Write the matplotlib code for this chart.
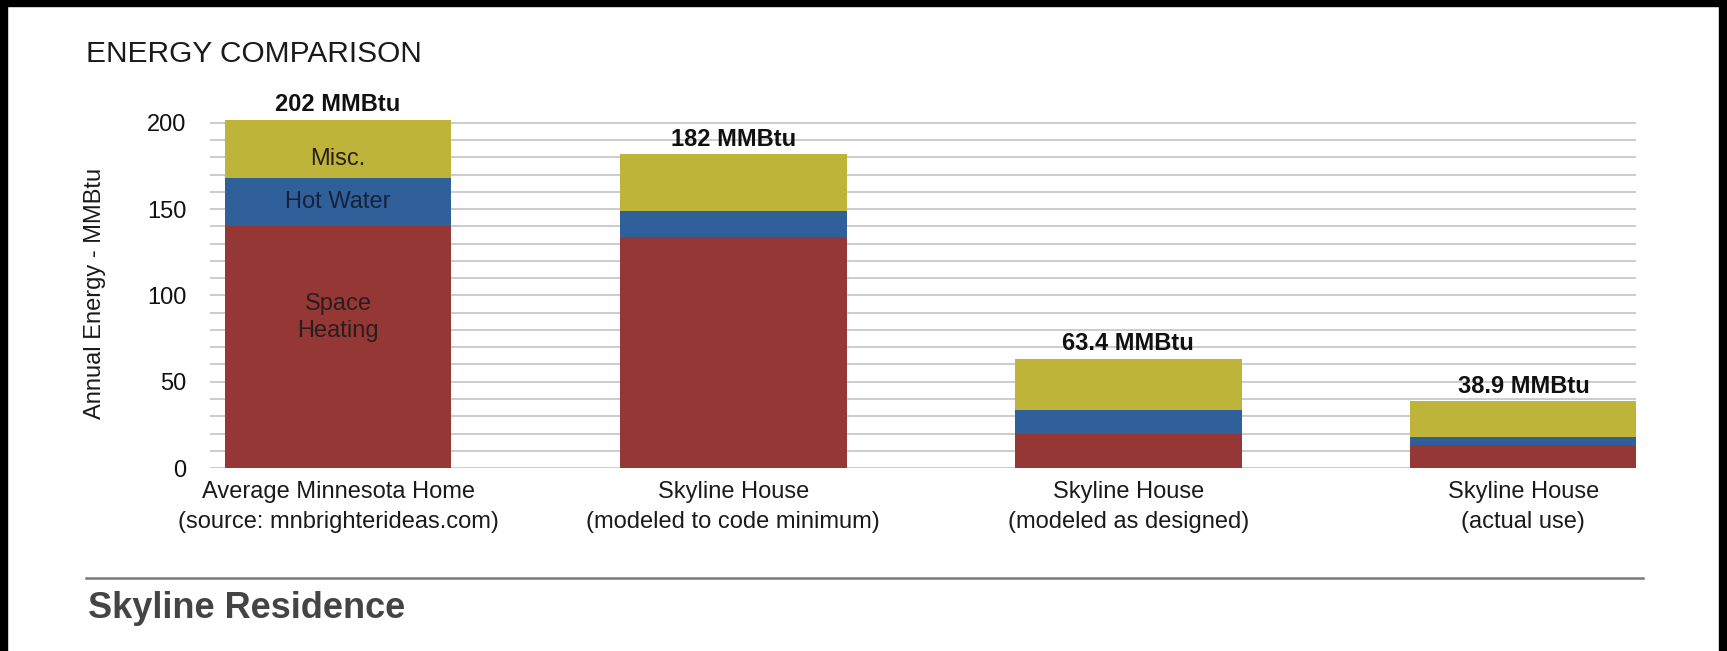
import matplotlib
matplotlib.use('Agg')
import matplotlib.pyplot as plt
from matplotlib.patches import Rectangle
from matplotlib.lines import Line2D
import numpy as np

plt.rcParams['font.family'] = ['Liberation Sans', 'DejaVu Sans']

# data (MMBtu)
categories = ['Average Minnesota Home\n(source: mnbrighterideas.com)',
              'Skyline House\n(modeled to code minimum)',
              'Skyline House\n(modeled as designed)',
              'Skyline House\n(actual use)']
space_heating = [140, 134, 19.5, 13.3]
hot_water = [28, 15, 14, 4.8]
misc = [34, 33, 29.9, 20.8]
totals = ['202', '182', '63.4', '38.9']

red = '#953735'
blue = '#30609a'
yellow = '#bfb43a'

fig = plt.figure(figsize=(17.27, 6.51), dpi=100)
ax = fig.add_axes([0.1216, 0.2811, 0.8257, 0.5353])

x = np.arange(len(categories))
w = 0.574
sh = np.array(space_heating)
hw = np.array(hot_water)
ms = np.array(misc)

ax.bar(x, sh, w, color=red, zorder=3)
ax.bar(x, hw, w, bottom=sh, color=blue, zorder=3)
ax.bar(x, ms, w, bottom=sh + hw, color=yellow, zorder=3)

# totals above each bar
for xi, top, t in zip(x, sh + hw + ms, totals):
    ax.annotate(f'{t} MMBtu', (xi, top), xytext=(0, 6), textcoords='offset points',
                ha='center', va='baseline', fontsize=17, fontweight='bold',
                color='#111111', annotation_clip=False)

# segment names on the first bar
seg_color = '#2b1d1d'
ax.text(x[0], sh[0] + hw[0] + ms[0] / 2 - 6, 'Misc.', ha='center', va='center',
        fontsize=17, color=seg_color, zorder=4)
ax.text(x[0], sh[0] + hw[0] / 2, 'Hot Water', ha='center', va='center',
        fontsize=17, color='#15233a', zorder=4)
ax.text(x[0], sh[0] - 53, 'Space\nHeating', ha='center', va='center',
        fontsize=17, color=seg_color, linespacing=1.3, zorder=4)

ax.set_xlim(-0.324, 3.285)
ax.set_ylim(0, 202)
ax.set_yticks(np.arange(0, 201, 50))
ax.set_yticks(np.arange(0, 201, 10), minor=True)
ax.grid(True, which='both', axis='y', color='#c8c8c8', linewidth=1.3, zorder=0)
ax.set_xticks(x)
ax.set_xticklabels(categories, fontsize=17, color='#1a1a1a', linespacing=1.5)
ax.tick_params(axis='y', which='both', length=0, labelsize=17, pad=17, labelcolor='#111111')
ax.tick_params(axis='x', length=0, pad=9)
for s in ax.spines.values():
    s.set_visible(False)

ax.set_ylabel('Annual Energy - MMBtu', fontsize=17, color='#1a1a1a')
ax.yaxis.set_label_coords(-0.073, 0.5)

fig.text(86 / 1727, 1 - 54 / 651, 'ENERGY COMPARISON', fontsize=21.5,
         color='#1a1a1a', ha='left', va='center')
fig.add_artist(Line2D([86 / 1727, 1643 / 1727], [1 - 578 / 651] * 2,
                      color='#7a7a7a', linewidth=1.8, transform=fig.transFigure))
fig.text(88 / 1727, 1 - 609 / 651, 'Skyline Residence', fontsize=26,
         fontweight='bold', color='#444444', ha='left', va='center')

# black frame of the screenshot
for r in [(0, 0, 7 / 1727, 1), (1719 / 1727, 0, 8 / 1727, 1), (0, 1 - 6 / 651, 1, 6 / 651)]:
    fig.add_artist(Rectangle(r[:2], r[2], r[3], transform=fig.transFigure,
                             color='black', zorder=10))

fig.savefig('out.png', dpi=100)
